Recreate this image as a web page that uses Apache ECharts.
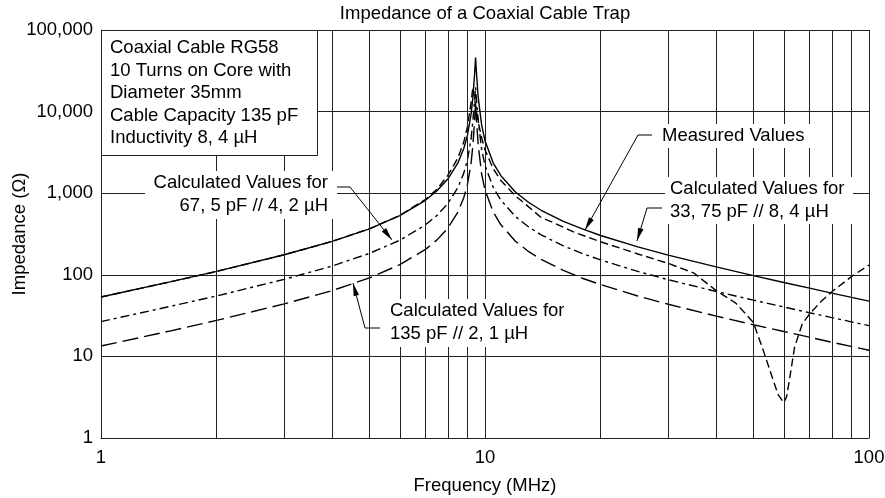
<!DOCTYPE html>
<html>
<head>
<meta charset="utf-8">
<script src="https://cdn.jsdelivr.net/npm/echarts@6/dist/echarts.min.js"></script>
<style>
  html, body { margin: 0; padding: 0; background: #fff; }
  #chart { width: 885px; height: 498px; }
</style>
</head>
<body>
<div id="chart"></div>
<script>
// frequencies (MHz) for the calculated curves
const freqCalc = [1, 1.5, 2, 3, 4, 5, 6, 7, 7.5, 8, 8.5, 8.8, 9, 9.2, 9.3, 9.4, 9.45, 9.5, 9.6, 9.8,
  10, 10.5, 11, 12, 13, 14, 16, 18, 20, 25, 30, 40, 50, 60, 70, 80, 100]
// 33,75 pF // 8,4 uH
const z3375 = [53.4, 81.2, 110, 176, 257, 366, 531, 819, 1070, 1490, 2350, 3500, 5100, 9300, 15000, 30000, 46000, 30000, 15000, 6860,
  4400, 2360, 1640, 1034, 769, 618, 452, 362, 303, 220, 174, 125, 97.7, 80.6, 68.6, 59.7, 47.6]
// 67,5 pF // 4,2 uH
const z675 = [26.7, 40.6, 55, 88, 128, 183, 265, 410, 535, 745, 1175, 1750, 2550, 4650, 7800, 14000, 20000, 14000, 7900, 3430,
  2200, 1180, 820, 517, 385, 309, 226, 181, 152, 110, 87, 62.5, 48.9, 40.3, 34.3, 29.9, 23.8]
// 135 pF // 2,1 uH
const z135 = [13.4, 20.3, 27.6, 44, 64, 91.5, 133, 205, 268, 372, 588, 875, 1280, 2325, 3900, 8000, 13000, 8000, 3950, 1715,
  1100, 590, 410, 258, 192, 155, 113, 90, 76, 55, 43.5, 31.2, 24.4, 20.2, 17.2, 14.9, 11.9]
// measured
const freqMeas = [1, 1.5, 2, 3, 4, 5, 6, 7, 7.5, 8, 8.5, 8.8, 9, 9.2, 9.3, 9.4, 9.6, 9.8, 10, 10.5,
  11, 12, 14, 15, 17, 20, 25, 30, 35, 40, 45, 50, 53, 56, 58, 60, 61, 62, 64, 67, 70, 75, 80, 90, 100]
const zMeas = [53.4, 81.2, 110, 176, 257, 366, 535, 840, 1120, 1650, 2700, 4200, 6500, 13000, 20000, 14000, 7500, 4800, 3400, 2000,
  1430, 930, 505, 440, 335, 254, 180, 138, 105, 64, 45, 26, 12, 5.5, 3.4, 2.7, 3.2, 5, 13, 25, 33, 47, 62, 95, 132]
// extra vertical grid lines
const minorFreq = [2, 3, 4, 5, 6, 7, 8, 9, 20, 30, 40, 50, 60, 70, 80, 90]

const FONT = '"Liberation Sans", Arial, sans-serif'
const FS = 18.5
const pairs = (xs, ys) => xs.map((x, i) => [x, ys[i]])

// leader line with arrow head at the last point
const arrow = (pts) => {
  const n = pts.length
  const [tx, ty] = pts[n - 1]
  const [px, py] = pts[n - 2]
  const a = Math.atan2(ty - py, tx - px)
  const len = 13
  const w = 2.8
  const bx = tx - len * Math.cos(a)
  const by = ty - len * Math.sin(a)
  const nx = -Math.sin(a) * w
  const ny = Math.cos(a) * w
  return [
    { type: 'polyline', z: 101, shape: { points: pts }, style: { stroke: '#000', lineWidth: 1, fill: null } },
    { type: 'polygon', z: 101, shape: { points: [[tx, ty], [bx + nx, by + ny], [bx - nx, by - ny]] }, style: { fill: '#000' } }
  ]
}
const whiteBox = (x, y, w, h) => ({ type: 'rect', z: 100, shape: { x, y, width: w, height: h }, style: { fill: '#fff' } })
const label = (x, y, text, align) => ({
  type: 'text', z: 102, x, y,
  style: { text, fill: '#000', fontSize: FS, fontFamily: FONT, align: align || 'left', verticalAlign: 'top', lineHeight: 22.5 }
})

const lineSeries = (name, data, type) => ({
  name,
  type: 'line',
  data,
  symbol: 'none',
  lineStyle: { color: '#000', width: 1.4, type },
  z: 3
})

const chart = echarts.init(document.getElementById('chart'))
chart.setOption({
  animation: false,
  backgroundColor: '#fff',
  grid: { left: 101, right: 16, top: 30, bottom: 60, containLabel: false, outerBoundsMode: 'none' },
  xAxis: {
    type: 'log',
    logBase: 10,
    min: 1,
    max: 100,
    name: 'Frequency (MHz)',
    nameLocation: 'middle',
    nameGap: 38,
    nameMoveOverlap: false,
    nameTextStyle: { color: '#000', fontSize: FS, fontFamily: FONT },
    axisLine: { lineStyle: { color: '#222', width: 1 } },
    axisTick: { show: false },
    axisLabel: { color: '#000', fontSize: FS, fontFamily: FONT, margin: 10 },
    splitLine: { show: true, lineStyle: { color: '#222', width: 1 } }
  },
  yAxis: {
    type: 'log',
    logBase: 10,
    min: 1,
    max: 100000,
    name: 'Impedance (Ω)',
    nameLocation: 'middle',
    nameGap: 72,
    nameMoveOverlap: false,
    nameTextStyle: { color: '#000', fontSize: FS, fontFamily: FONT },
    axisLine: { show: true, lineStyle: { color: '#222', width: 1 } },
    axisTick: { show: false },
    axisLabel: {
      color: '#000', fontSize: FS, fontFamily: FONT, margin: 8,
      formatter: (v) => Number(v).toLocaleString('en-US')
    },
    splitLine: { show: true, lineStyle: { color: '#222', width: 1 } }
  },
  series: [
    Object.assign(lineSeries('33,75 pF // 8,4 µH', pairs(freqCalc, z3375), 'solid'), {
      markLine: {
        silent: true,
        symbol: 'none',
        label: { show: false },
        lineStyle: { color: '#222', width: 1, type: 'solid' },
        data: minorFreq.map((f) => ({ xAxis: f }))
      }
    }),
    lineSeries('67,5 pF // 4,2 µH', pairs(freqCalc, z675), [9, 4, 3, 4]),
    lineSeries('135 pF // 2,1 µH', pairs(freqCalc, z135), [16, 6]),
    lineSeries('Measured Values', pairs(freqMeas, zMeas), [8, 4])
  ],
  graphic: [
    { type: 'text', z: 102, x: 485, y: 14, style: { text: 'Impedance of a Coaxial Cable Trap', fill: '#000', fontSize: 18.5, fontFamily: FONT, align: 'center', verticalAlign: 'middle' } },
    // info box
    { type: 'rect', z: 100, shape: { x: 101.5, y: 30.5, width: 216, height: 125 }, style: { fill: '#fff', stroke: '#222', lineWidth: 1 } },
    label(110, 37, 'Coaxial Cable RG58\n10 Turns on Core with\nDiameter 35mm\nCable Capacity 135 pF\nInductivity 8, 4 µH'),
    // 67,5 pF label
    whiteBox(145, 171, 192, 48),
    label(328, 172, 'Calculated Values for\n67, 5 pF // 4, 2 µH', 'right'),
    ...arrow([[337, 187], [350, 187], [392, 240]]),
    // 135 pF label
    whiteBox(383, 299, 197, 48),
    label(390, 300, 'Calculated Values for\n135 pF // 2, 1 µH'),
    ...arrow([[380, 328], [365, 328], [353, 283]]),
    // measured label
    whiteBox(655, 124, 155, 24),
    label(662, 125, 'Measured Values'),
    ...arrow([[652, 135], [638, 135], [585, 230]]),
    // 33,75 pF label
    whiteBox(665, 177, 188, 47),
    label(670, 178, 'Calculated Values for\n33, 75 pF // 8, 4 µH'),
    ...arrow([[662, 208], [647, 208], [637, 241]])
  ]
})
</script>
</body>
</html>
